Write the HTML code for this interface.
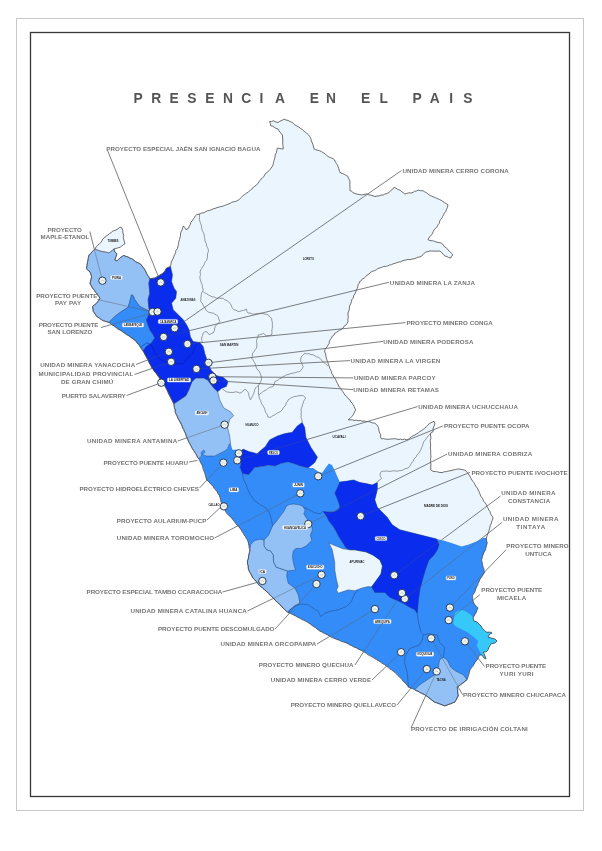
<!DOCTYPE html>
<html><head><meta charset="utf-8"><style>
html,body{margin:0;padding:0;background:#fff;}
body{width:602px;height:851px;overflow:hidden;}
svg{display:block;will-change:transform;}
.t{font-family:"Liberation Sans",sans-serif;font-weight:bold;font-size:13.8px;fill:#555555;}
.l{font-family:"Liberation Sans",sans-serif;font-weight:bold;font-size:6.2px;fill:#747474;}
.d{font-family:"Liberation Sans",sans-serif;font-weight:bold;font-size:3.3px;fill:#222;}
</style></head><body>
<svg width="602" height="851" viewBox="0 0 602 851">
<rect x="16.5" y="18.5" width="567" height="792" fill="none" stroke="#c8c8c8" stroke-width="1"/>
<rect x="30.5" y="32.5" width="539" height="764" fill="none" stroke="#383838" stroke-width="1.3"/>
<text x="133.6" y="102.5" class="t">P</text>
<text x="151.2" y="102.5" class="t">R</text>
<text x="169.5" y="102.5" class="t">E</text>
<text x="187.3" y="102.5" class="t">S</text>
<text x="205.2" y="102.5" class="t">E</text>
<text x="223" y="102.5" class="t">N</text>
<text x="241.3" y="102.5" class="t">C</text>
<text x="259.5" y="102.5" class="t">I</text>
<text x="275" y="102.5" class="t">A</text>
<text x="309.8" y="102.5" class="t">E</text>
<text x="326" y="102.5" class="t">N</text>
<text x="360.9" y="102.5" class="t">E</text>
<text x="379.6" y="102.5" class="t">L</text>
<text x="412.6" y="102.5" class="t">P</text>
<text x="429.8" y="102.5" class="t">A</text>
<text x="449.2" y="102.5" class="t">I</text>
<text x="463.2" y="102.5" class="t">S</text>
<polygon points="95.0,248.9 98.0,244.9 101.9,240.9 103.9,237.9 107.9,235.0 112.9,231.0 117.9,229.0 119.9,227.0 121.9,228.0 122.9,233.0 123.9,240.0 124.9,243.9 121.9,245.9 117.9,247.9 113.9,248.9 114.9,251.9 116.9,253.9 115.9,256.9 114.9,259.9 116.9,260.9 119.9,257.9 123.9,255.4 127.9,256.9 131.9,258.9 135.8,261.9 140.6,264.1 144.0,268.3 147.3,274.9 149.8,279.0 155.0,278.0 162.0,274.0 164.7,271.6 166.4,268.3 170.5,266.6 172.2,260.0 174.7,254.5 178.4,244.6 180.9,232.1 183.4,225.9 185.9,229.6 188.4,228.4 190.9,222.1 196.6,214.7 199.9,213.9 213.2,208.9 226.5,204.8 237.3,200.6 246.4,193.2 256.4,184.9 264.7,174.9 272.2,166.6 274.7,158.3 277.2,148.3 283.2,149.0 282.4,135.0 278.0,129.0 270.8,125.8 269.6,121.6 273.3,120.8 278.0,122.5 284.0,119.0 290.0,121.6 296.5,125.8 300.0,128.0 304.8,131.6 309.8,136.6 312.3,143.0 314.0,149.0 321.4,151.5 328.0,156.5 334.7,160.0 338.0,166.5 340.5,173.0 348.0,176.5 350.0,182.0 350.0,190.7 356.6,194.0 361.6,195.0 366.6,194.0 375.0,196.5 383.2,195.0 390.0,191.6 394.0,187.4 399.8,190.0 404.8,194.0 413.0,192.4 418.0,190.0 423.0,190.7 428.0,194.0 436.4,198.2 443.0,201.5 448.0,204.8 446.3,209.8 438.0,224.8 428.0,239.7 434.7,241.4 441.4,243.0 446.3,248.0 452.8,255.0 450.8,258.0 444.8,256.0 439.9,251.0 431.9,251.0 425.9,252.0 421.9,256.0 412.0,259.0 406.0,260.0 389.6,265.0 379.7,268.0 369.7,273.0 359.7,281.5 356.4,290.0 351.4,301.5 348.0,313.0 348.0,321.6 343.0,328.3 334.7,333.3 331.4,338.2 328.1,344.9 324.8,349.9 326.4,358.2 329.7,368.1 331.6,373.3 335.0,378.3 338.3,385.0 341.6,390.0 344.9,395.0 349.9,399.9 353.2,404.9 355.7,409.9 353.2,414.9 348.2,419.8 358.2,420.7 368.2,421.5 374.8,423.2 378.1,426.5 379.8,433.1 381.5,438.9 391.4,438.9 408.2,439.5 413.2,435.7 419.8,431.6 426.5,426.6 429.8,423.3 434.0,421.3 434.8,423.3 433.1,429.1 433.1,431.6 430.6,433.2 430.6,469.8 433.1,471.4 439.9,472.5 446.5,471.6 453.2,470.0 459.8,469.1 464.8,470.0 468.1,473.3 473.1,481.6 478.1,489.9 483.1,499.9 488.1,508.2 493.1,518.1 491.4,523.1 489.7,528.1 488.1,533.1 486.4,538.1 487.2,543.1 485.6,549.7 483.1,554.7 481.4,560.0 484.6,572.5 479.6,579.9 474.6,592.4 472.5,595.3 472.5,599.3 475.0,605.0 478.0,608.0 476.0,613.0 473.0,618.0 474.0,621.0 477.0,622.0 479.0,624.0 481.0,626.0 483.0,629.0 486.0,632.0 490.0,632.0 492.0,633.0 489.0,635.0 488.0,637.0 491.0,638.0 495.0,639.0 497.0,641.0 495.0,643.0 491.0,644.0 489.0,647.0 488.0,650.0 486.0,652.0 483.0,652.0 485.0,656.0 486.0,659.0 484.0,658.0 482.0,655.0 479.2,655.1 477.8,659.1 473.9,664.4 469.9,670.0 467.0,679.8 462.0,683.5 457.1,687.2 458.3,696.0 454.6,702.2 444.6,705.9 434.6,702.2 424.7,694.7 414.7,689.7 408.5,687.2 402.2,679.8 394.8,672.3 384.8,664.8 374.8,658.6 364.9,652.4 354.9,647.4 344.9,642.4 335.0,638.7 327.5,634.9 320.0,631.2 307.2,622.1 297.3,617.1 287.3,612.1 277.3,602.2 267.4,592.2 258.7,584.7 252.4,577.2 248.7,569.8 247.4,562.3 249.9,549.8 247.4,539.9 241.2,529.9 235.0,522.4 233.2,520.0 227.8,514.4 223.9,509.1 221.2,502.5 219.9,497.1 217.2,491.8 211.9,485.2 206.6,479.9 205.2,474.6 202.6,466.6 198.6,458.6 194.6,452.0 190.6,445.3 188.0,440.0 183.8,429.7 178.8,419.7 175.8,413.7 173.8,403.8 171.8,399.8 167.8,391.8 163.9,383.9 157.9,375.9 151.9,367.9 147.9,359.9 143.0,351.0 140.0,346.5 136.0,341.0 129.8,336.4 123.2,332.2 115.7,327.2 109.1,322.3 101.6,319.8 96.6,316.4 93.3,311.5 92.5,306.5 96.6,303.2 99.9,298.2 96.6,293.2 92.5,288.2 90.0,283.2 91.6,276.6 90.0,271.8 86.6,268.9 87.0,264.9 88.0,259.9 89.0,254.9 92.0,251.9" fill="#eaf5fe" stroke="none"/>
<polygon points="198.6,458.6 201.3,456.0 201.3,452.0 203.9,450.0 205.2,452.0 202.6,454.6 206.6,456.0 214.6,456.0 219.9,453.3 225.2,450.6 227.8,448.0 229.2,444.0 230.6,443.6 232.4,449.8 237.4,449.8 239.9,452.3 241.1,462.2 239.9,467.2 242.4,473.4 248.6,474.7 255.0,467.2 261.6,466.6 268.3,465.2 275.0,465.9 281.6,463.3 288.2,461.9 294.9,463.9 300.2,465.9 308.2,467.9 313.0,468.0 318.0,471.5 322.0,473.0 325.5,468.0 329.0,463.5 332.0,465.0 335.0,471.0 337.5,477.0 339.9,482.0 347.3,481.1 353.6,479.9 359.8,482.4 366.0,483.6 372.3,484.9 377.3,482.4 377.3,489.8 374.8,499.8 377.3,507.3 382.2,512.3 387.2,517.3 392.2,524.7 399.7,529.7 409.6,532.2 419.6,534.7 429.6,537.2 436.6,538.9 443.2,540.6 451.5,543.1 461.5,546.4 468.1,544.7 476.4,541.4 483.1,538.1 486.4,538.1 487.2,543.1 485.6,549.7 483.1,554.7 481.4,560.0 484.6,572.5 479.6,579.9 474.6,592.4 472.5,595.3 472.5,599.3 475.0,605.0 478.0,608.0 476.0,613.0 473.0,618.0 474.0,621.0 477.0,622.0 479.0,624.0 481.0,626.0 483.0,629.0 486.0,632.0 490.0,632.0 492.0,633.0 489.0,635.0 488.0,637.0 491.0,638.0 495.0,639.0 497.0,641.0 495.0,643.0 491.0,644.0 489.0,647.0 488.0,650.0 486.0,652.0 483.0,652.0 485.0,656.0 486.0,659.0 484.0,658.0 482.0,655.0 479.2,655.1 477.8,659.1 473.9,664.4 469.9,670.0 467.0,679.8 462.0,683.5 457.1,687.2 458.3,696.0 454.6,702.2 444.6,705.9 434.6,702.2 424.7,694.7 414.7,689.7 408.5,687.2 402.2,679.8 394.8,672.3 384.8,664.8 374.8,658.6 364.9,652.4 354.9,647.4 344.9,642.4 335.0,638.7 327.5,634.9 320.0,631.2 307.2,622.1 297.3,617.1 287.3,612.1 277.3,602.2 267.4,592.2 258.7,584.7 252.4,577.2 248.7,569.8 247.4,562.3 249.9,549.8 247.4,539.9 241.2,529.9 235.0,522.4 233.2,520.0 227.8,514.4 223.9,509.1 221.2,502.5 219.9,497.1 217.2,491.8 211.9,485.2 206.6,479.9 205.2,474.6 202.6,466.6" fill="#338cf8" stroke="none"/>
<polygon points="95.0,248.9 92.0,251.9 89.0,254.9 88.0,259.9 87.0,264.9 86.6,268.9 90.0,271.8 91.6,276.6 90.0,283.2 92.5,288.2 96.6,293.2 99.9,298.2 96.6,303.2 92.5,306.5 93.3,311.5 96.6,316.4 101.6,319.8 109.1,322.3 114.9,316.4 121.5,311.5 128.2,307.3 129.8,301.5 131.5,294.9 133.2,295.7 134.8,299.8 137.3,303.2 139.8,306.5 144.8,309.0 149.8,311.5 148.9,308.1 148.1,299.8 149.8,293.2 148.9,283.2 149.8,279.0 147.3,274.9 144.0,268.3 140.6,264.1 135.8,261.9 131.9,258.9 127.9,256.9 123.9,255.4 119.9,257.9 116.9,260.9 114.9,259.9 115.9,256.9 116.9,253.9 114.9,251.9 113.9,248.9 111.9,250.9 108.9,252.9 104.9,251.9 99.9,250.9" fill="#93c0f5" stroke="#24407a" stroke-width="0.6" stroke-opacity="0.8"/>
<polygon points="109.1,322.3 114.9,316.4 121.5,311.5 128.2,307.3 129.8,301.5 131.5,294.9 133.2,295.7 134.8,299.8 137.3,303.2 139.8,306.5 144.8,309.0 149.8,311.5 148.1,316.4 146.4,319.8 148.1,324.8 149.8,329.7 153.1,334.7 154.8,338.0 151.4,343.0 146.4,346.3 143.0,351.0 140.0,346.5 136.0,341.0 129.8,336.4 123.2,332.2 115.7,327.2" fill="#338cf8" stroke="#24407a" stroke-width="0.6" stroke-opacity="0.8"/>
<polygon points="173.8,403.8 179.8,399.8 185.8,395.8 188.8,389.8 191.8,381.9 195.7,377.9 203.7,377.9 207.7,379.9 213.7,387.8 217.7,391.8 219.7,399.8 223.6,407.8 230.6,411.8 233.6,415.7 229.6,419.7 227.6,427.7 229.6,435.7 230.6,443.6 229.2,444.0 227.8,448.0 225.2,450.6 219.9,453.3 214.6,456.0 206.6,456.0 202.6,454.6 205.2,452.0 203.9,450.0 201.3,452.0 201.3,456.0 198.6,458.6 194.6,452.0 190.6,445.3 188.0,440.0 183.8,429.7 178.8,419.7 175.8,413.7" fill="#93c0f5" stroke="#24407a" stroke-width="0.6" stroke-opacity="0.8"/>
<polygon points="263.9,540.0 268.6,535.2 272.6,525.9 275.9,521.9 279.9,516.6 283.9,511.3 286.5,506.0 289.2,504.6 293.2,504.0 298.5,504.6 302.5,506.0 305.1,509.9 303.8,513.9 306.4,517.9 309.1,521.9 311.8,525.9 312.4,529.9 310.4,535.2 311.8,540.5 306.4,545.8 301.1,548.5 295.8,548.5 293.2,551.1 292.5,556.4 293.2,561.8 294.5,567.1 295.8,570.0 287.3,571.0 276.1,567.3 273.6,562.3 273.2,555.0 270.6,551.1 266.6,549.8 263.9,545.8" fill="#93c0f5" stroke="#24407a" stroke-width="0.6" stroke-opacity="0.8"/>
<polygon points="250.6,544.5 254.6,540.5 259.9,539.2 263.9,540.0 263.9,545.8 266.6,549.8 270.6,551.1 273.2,555.0 273.6,562.3 276.1,567.3 287.3,571.0 286.7,576.6 288.3,583.3 295.0,588.2 298.3,594.9 300.0,603.2 295.0,605.7 290.0,609.8 287.3,612.1 277.3,602.2 267.4,592.2 258.7,584.7 252.4,577.2 248.7,569.8 247.4,562.3 249.9,549.8" fill="#93c0f5" stroke="#24407a" stroke-width="0.6" stroke-opacity="0.8"/>
<polygon points="414.7,689.7 424.7,694.7 434.6,702.2 444.6,705.9 454.6,702.2 458.3,696.0 457.1,687.2 462.0,683.5 467.0,679.8 463.3,674.8 455.8,671.1 450.8,667.3 447.1,659.8 443.3,657.3 439.6,659.8 438.4,667.3 434.6,674.8 427.2,679.8 419.7,684.8" fill="#93c0f5" stroke="#24407a" stroke-width="0.6" stroke-opacity="0.8"/>
<polygon points="328.9,542.8 332.9,544.8 337.9,546.8 342.9,548.8 349.9,549.8 354.9,549.8 359.9,550.8 365.8,551.8 373.0,555.0 380.0,560.0 382.5,566.0 381.0,574.0 376.0,581.0 371.5,587.0 368.1,586.6 361.4,588.2 354.8,590.7 348.1,589.9 343.1,591.6 338.2,593.2 336.5,589.9 338.2,586.6 336.5,580.0 334.8,570.0 334.7,562.3 332.2,549.8" fill="#eaf5fe" stroke="#24407a" stroke-width="0.6" stroke-opacity="0.8"/>
<polygon points="149.8,279.0 155.0,278.0 162.0,274.0 164.7,271.6 166.4,268.3 170.5,266.6 172.5,275.0 171.6,281.6 174.1,288.2 176.6,291.5 175.8,298.2 171.6,303.2 173.3,309.8 178.3,314.8 183.3,319.8 186.6,324.8 189.1,329.7 190.5,337.0 193.2,341.5 199.8,342.4 203.2,346.5 204.8,353.2 207.0,360.0 211.0,370.0 216.4,375.6 223.1,377.2 228.1,381.4 226.4,386.4 221.4,388.5 217.7,391.8 213.7,387.8 207.7,379.9 203.7,377.9 195.7,377.9 191.8,381.9 188.8,389.8 185.8,395.8 179.8,399.8 173.8,403.8 171.8,399.8 167.8,391.8 163.9,383.9 157.9,375.9 151.9,367.9 147.9,359.9 143.0,351.0 146.4,346.3 151.4,343.0 154.8,338.0 153.1,334.7 149.8,329.7 148.1,324.8 146.4,319.8 148.1,316.4 149.8,311.5 148.9,308.1 148.1,299.8 149.8,293.2 148.9,283.2" fill="#0a2ced" stroke="#24407a" stroke-width="0.6" stroke-opacity="0.8"/>
<polygon points="239.9,452.3 243.0,449.0 248.8,451.6 253.0,452.5 257.0,453.7 261.2,450.0 265.4,446.6 267.9,442.5 269.8,439.8 277.2,436.1 284.7,433.6 292.2,432.3 297.2,426.1 302.2,422.4 304.7,427.3 305.9,437.3 310.9,447.3 317.5,457.3 314.8,462.6 308.2,467.9 300.2,465.9 294.9,463.9 288.2,461.9 281.6,463.3 275.0,465.9 268.3,465.2 261.6,466.6 255.0,467.2 248.6,474.7 242.4,473.4 239.9,467.2 241.1,462.2" fill="#0a2ced" stroke="#24407a" stroke-width="0.6" stroke-opacity="0.8"/>
<polygon points="339.9,482.0 347.3,481.1 353.6,479.9 359.8,482.4 366.0,483.6 372.3,484.9 377.3,482.4 377.3,489.8 374.8,499.8 377.3,507.3 382.2,512.3 387.2,517.3 392.2,524.7 399.7,529.7 409.6,532.2 419.6,534.7 429.6,537.2 436.6,538.9 439.1,544.7 437.4,549.7 434.0,555.0 429.0,560.0 426.0,568.0 423.0,578.0 420.0,589.0 418.5,600.0 417.3,613.6 414.8,609.8 409.8,607.3 403.6,603.6 396.1,599.9 389.9,597.4 384.9,592.4 374.9,592.4 371.5,587.0 376.0,581.0 381.0,574.0 382.5,566.0 380.0,560.0 373.0,555.0 365.8,551.8 359.9,550.8 354.9,549.8 349.9,549.8 345.9,547.8 342.9,542.8 338.9,536.8 335.9,530.8 332.9,525.9 328.9,520.9 327.0,516.9 325.0,513.9 323.0,511.4 327.9,511.9 333.9,511.9 337.9,509.9 339.9,506.9 338.9,502.9 336.9,498.0 334.9,493.0 336.9,489.0" fill="#0a2ced" stroke="#24407a" stroke-width="0.6" stroke-opacity="0.8"/>
<polygon points="455.0,613.0 458.0,611.0 462.0,610.0 465.0,611.0 468.0,613.0 471.0,615.0 473.0,618.0 474.0,621.0 477.0,622.0 479.0,624.0 481.0,626.0 483.0,629.0 486.0,632.0 490.0,632.0 492.0,633.0 489.0,635.0 488.0,637.0 491.0,638.0 495.0,639.0 497.0,641.0 495.0,643.0 491.0,644.0 489.0,647.0 488.0,650.0 486.0,652.0 483.0,652.0 485.0,656.0 486.0,659.0 484.0,658.0 482.0,655.0 480.0,652.0 477.0,646.0 478.0,641.0 475.0,638.0 471.0,635.0 467.0,632.0 463.0,630.0 459.0,628.0 455.0,626.0 453.0,623.0 454.0,619.0" fill="#35c8f8" stroke="none"/>
<polyline points="140,347.4 147,342.8 151.6,345.1 155.1,353.3 159.8,359.1 166.7,362.6 174.9,363.7 183,363.7 186.5,359.1 192.3,353.3 195.8,345.1 200.5,341.6" fill="none" stroke="#06168c" stroke-width="0.7" stroke-opacity="0.6"/>
<polyline points="242.4,473.4 243.6,479.7 246.4,485.2 248.0,490.0 250.6,495.3 254.6,500.6 259.9,504.6 265.2,507.3 268.6,511.3 270.6,516.6 271.9,521.9 272.6,525.9" fill="none" stroke="#24407a" stroke-width="0.6" stroke-opacity="0.8"/>
<polyline points="303.8,507.3 309.1,509.9 314.4,512.6 320.0,513.9 323.0,511.4" fill="none" stroke="#24407a" stroke-width="0.6" stroke-opacity="0.8"/>
<polyline points="288.6,613.4 290.0,609.8 295.0,605.7 301.6,604.0 308.3,604.9 313.2,608.2 318.2,611.5 320.7,616.5 324.9,613.2 329.9,611.5 338.2,609.8 346.5,606.5 351.4,601.5 354.8,593.2 358.1,590.7" fill="none" stroke="#24407a" stroke-width="0.6" stroke-opacity="0.8"/>
<polyline points="417.3,613.6 418.5,622.3 421.0,632.3 423.4,634.9" fill="none" stroke="#24407a" stroke-width="0.6" stroke-opacity="0.8"/>
<polyline points="423.4,634.9 422.2,639.9 419.7,644.9 409.7,648.6 404.7,657.3 404.7,663.6 407.2,672.3 408.5,687.2" fill="none" stroke="#24407a" stroke-width="0.6" stroke-opacity="0.8"/>
<polyline points="423.4,634.9 429.6,633.7 437.1,634.9 439.6,642.4 444.6,647.4 443.3,657.3" fill="none" stroke="#24407a" stroke-width="0.6" stroke-opacity="0.8"/>
<polyline points="95.0,248.9 97.4,250.1 99.9,250.9 102.3,251.7 104.9,251.9 106.9,252.4 108.9,252.9 110.3,251.7 111.9,250.9 113.9,248.9" fill="none" stroke="#707070" stroke-width="0.7"/>
<polyline points="199.5,213.9 199.5,215.8 199.5,217.7 199.4,219.5 199.9,221.4 200.7,223.5 201.4,225.7 201.6,228.0 202.2,230.3 203.4,232.4 204.1,234.7 204.6,237.3 204.9,240.0 205.3,242.0 206.5,243.7 206.6,245.8 207.6,247.6 208.3,249.5 208.4,251.7 207.4,253.9 207.5,256.1 207.3,258.3 206.8,260.1 205.4,261.5 204.6,263.2 204.0,265.0 202.7,266.5 201.7,268.3 200.7,270.0 200.0,272.1 200.6,274.5 199.9,276.6 200.0,278.9 200.8,281.0 201.5,283.2 202.3,285.4 202.5,287.7 203.2,289.9 202.5,291.6 201.5,293.2 201.2,295.3 200.9,297.3 200.9,299.4 200.7,301.5 202.1,303.0 203.0,304.8 204.0,306.5 205.2,308.1 206.0,310.0 207.3,311.5 209.2,312.4 211.2,312.8 213.2,313.1 214.8,314.2 216.6,315.1 218.1,316.4 218.8,319.0 219.8,321.4 218.3,323.2 216.5,324.8 215.3,326.2 214.8,328.0 214.3,330.6 213.2,333.0 211.3,333.5 209.8,334.7 207.8,333.4 206.5,331.4 204.7,332.0 203.2,333.0 202.5,335.5 201.5,338.0 201.9,340.5 202.4,343.0" fill="none" stroke="#707070" stroke-width="0.7"/>
<polyline points="203.2,291.5 204.7,292.9 206.6,293.7 208.2,294.9 210.2,295.8 212.2,296.9 214.5,297.1 216.5,298.2 218.7,298.2 220.9,298.3 223.1,298.2 224.5,299.8 226.7,300.4 228.4,301.6 229.8,303.2 231.0,304.8 231.6,306.7 232.6,308.3 233.9,309.8 235.9,310.1 237.7,311.3 239.7,311.5 241.9,310.7 244.3,310.2 246.4,309.0 246.8,311.2 248.0,313.1 250.3,313.0 252.4,314.1 254.7,314.0 257.3,313.6 260.0,313.3 262.1,313.4 264.2,314.1 266.3,314.2 268.3,315.0 269.8,316.8 271.6,318.3 271.8,320.4 272.3,322.4 272.4,324.5 272.4,326.6 272.2,328.7 271.8,330.7 272.0,332.8 271.6,334.9 269.2,335.6 266.6,335.7 264.9,334.6 263.3,333.3 260.9,334.5 258.3,334.9 257.9,337.2 256.8,339.3 256.6,341.6 256.9,343.8 256.8,346.0 256.6,348.2 255.0,349.7 254.1,351.7 252.5,353.2 252.4,355.8 251.7,358.2 253.0,359.7 253.8,361.6 255.0,363.2 255.6,365.7 256.6,368.1 257.6,369.9 259.2,371.2 260.0,373.1 261.0,375.5 261.6,378.1 261.1,380.7 260.0,383.1 258.5,385.2 258.4,387.1 258.6,389.1 258.5,391.0 258.4,393.0 258.8,395.0 259.0,397.0 259.6,398.9 260.7,400.6 261.1,402.5 262.1,404.5 263.4,406.3 264.4,408.3 265.1,410.4 265.5,412.2 266.7,413.6 267.5,415.3 267.8,417.1 269.8,417.4 269.8,417.4 271.6,416.7 273.0,415.5 274.8,414.9 276.5,413.5 278.5,412.5 280.6,411.5 282.2,409.9 283.2,407.8 284.9,406.3 285.8,404.7 286.2,402.8 287.6,401.5 288.2,399.7 289.8,398.8 291.3,397.7 293.1,397.1 294.8,396.4 296.9,396.3 299.0,395.6 301.1,395.6 303.2,395.5 305.6,398.0 304.6,399.6 303.7,401.2 303.2,403.0 302.5,404.7 302.1,406.5 301.4,408.2 301.0,410.0 301.3,411.9 301.1,413.7 301.2,415.5 301.0,417.4 301.9,419.8 302.2,422.4" fill="none" stroke="#707070" stroke-width="0.7"/>
<polyline points="259.1,394.7 261.2,393.1 263.3,391.4 265.1,390.5 266.9,389.5 268.3,388.1 270.7,387.1 273.3,386.4 274.3,384.0 274.9,381.4 276.7,380.7 278.3,379.9 279.8,378.6 281.6,378.1 283.0,376.6 284.8,375.8 286.5,374.8 288.8,374.4 290.9,373.5 293.2,373.1 295.4,372.6 297.6,371.9 299.8,371.5 301.2,370.0 302.4,368.4 303.2,366.5 302.3,364.9 301.9,363.0 300.7,361.5 300.7,358.9 301.5,356.5 303.3,355.0 304.8,353.2 306.8,353.9 309.0,353.7 311.0,354.6 313.1,354.8 314.8,355.7 316.3,356.9 318.2,357.1 319.8,358.2 321.4,359.9 322.9,361.8 324.8,363.2 326.3,364.7 328.0,366.0" fill="none" stroke="#707070" stroke-width="0.7"/>
<polyline points="222.6,389.2 224.6,390.5 226.6,391.8 229.2,392.3 231.9,392.5 233.9,392.3 235.9,391.8 238.0,392.2 239.9,393.2 242.5,391.8 243.5,390.2 245.2,389.2 246.6,390.4 247.8,391.8 248.7,393.7 248.9,395.9 249.7,397.9 250.5,399.8 251.5,398.1 252.3,396.3 253.2,394.5 254.2,392.3 254.6,389.9 255.8,387.8 257.1,386.5 258.5,385.2" fill="none" stroke="#707070" stroke-width="0.7"/>
<polyline points="430.6,433.2 429.4,435.0 427.7,436.4 426.5,438.2 425.3,439.8 424.0,441.4 423.2,443.2 422.6,445.4 421.7,447.4 420.9,449.5 419.8,451.5 418.8,453.3 417.2,454.7 416.4,456.6 414.9,458.1 413.7,459.8 412.8,461.6 411.5,463.1 410.6,464.9 409.4,466.5 408.2,468.1 406.0,468.4 404.0,469.3 402.1,470.4 399.9,470.6 397.9,471.0 395.9,471.2 393.9,470.7 391.9,471.0 389.9,471.4 387.8,471.1 385.8,471.1 383.7,471.2 381.6,471.4 380.4,472.9 380.0,474.8 380.6,476.6 381.6,478.1 380.3,479.7 378.5,480.7 377.3,482.4" fill="none" stroke="#707070" stroke-width="0.7"/>
<polygon points="95.0,248.9 96.3,246.7 98.0,244.9 99.5,243.8 100.8,242.4 101.9,240.9 102.7,239.3 103.9,237.9 105.9,236.4 107.9,235.0 109.5,233.6 111.3,232.4 112.9,231.0 115.5,230.2 117.9,229.0 119.9,227.0 121.9,228.0 122.7,230.4 122.9,233.0 123.6,235.3 123.3,237.7 123.9,240.0 124.5,241.9 124.9,243.9 123.3,244.7 121.9,245.9 120.1,247.3 117.9,247.9 115.9,248.4 113.9,248.9 114.9,251.9 116.9,253.9 115.9,256.9 114.9,259.9 116.9,260.9 118.5,259.5 119.9,257.9 121.8,256.5 123.9,255.4 125.8,256.5 127.9,256.9 129.8,258.2 131.9,258.9 134.1,260.1 135.8,261.9 138.4,262.7 140.6,264.1 141.7,265.5 142.6,267.1 144.0,268.3 144.9,269.9 145.9,271.5 146.5,273.2 147.3,274.9 148.9,276.8 149.8,279.0 152.4,278.3 155.0,278.0 156.7,277.0 158.5,276.0 160.1,274.8 162.0,274.0 163.2,272.6 164.7,271.6 165.4,269.8 166.4,268.3 168.4,267.4 170.5,266.6 170.9,264.4 171.3,262.1 172.2,260.0 173.3,258.3 173.9,256.4 174.7,254.5 175.5,252.6 175.9,250.5 177.3,248.7 177.9,246.7 178.4,244.6 178.5,242.8 179.0,241.0 179.6,239.3 180.0,237.5 180.5,235.7 180.5,233.9 180.9,232.1 182.0,230.1 182.7,228.0 183.4,225.9 184.8,227.7 185.9,229.6 188.4,228.4 189.3,226.3 190.4,224.3 190.9,222.1 192.3,220.8 193.2,219.1 194.4,217.7 195.2,216.0 196.6,214.7 199.9,213.9 201.7,213.0 203.8,212.7 205.6,211.7 207.4,210.8 209.4,210.4 211.4,209.8 213.2,208.9 215.1,208.4 217.0,207.6 218.9,207.1 220.8,206.6 222.8,206.2 224.6,205.4 226.5,204.8 228.3,204.0 230.1,203.4 231.8,202.3 233.6,201.7 235.6,201.5 237.3,200.6 239.1,199.7 240.4,198.2 241.8,196.8 243.2,195.5 244.9,194.4 246.4,193.2 248.1,192.3 249.4,191.0 250.7,189.7 252.3,188.7 253.4,187.1 255.0,186.1 256.4,184.9 257.9,183.7 258.8,182.1 259.9,180.6 261.0,179.1 262.4,177.8 263.8,176.6 264.7,174.9 265.7,173.3 267.4,172.3 268.6,170.9 269.9,169.6 271.1,168.1 272.2,166.6 273.1,164.6 273.5,162.5 274.1,160.4 274.7,158.3 275.1,156.3 275.4,154.2 276.5,152.4 276.8,150.3 277.2,148.3 279.2,148.3 281.2,148.8 283.2,149.0 283.1,147.0 282.9,145.0 282.7,143.0 282.8,141.0 282.7,139.0 282.6,137.0 282.4,135.0 281.3,133.5 279.9,132.2 278.9,130.6 278.0,129.0 276.1,128.4 274.4,127.3 272.7,126.3 270.8,125.8 270.4,123.6 269.6,121.6 271.5,121.4 273.3,120.8 275.6,121.9 278.0,122.5 279.9,121.2 282.1,120.4 284.0,119.0 285.9,120.0 288.1,120.4 290.0,121.6 291.8,122.3 293.5,123.4 294.8,124.9 296.5,125.8 298.4,126.7 300.0,128.0 301.8,129.0 303.1,130.5 304.8,131.6 306.6,133.2 308.4,134.7 309.8,136.6 310.9,138.6 311.4,140.9 312.3,143.0 313.1,144.9 313.6,147.0 314.0,149.0 315.8,149.8 317.7,150.2 319.6,150.7 321.4,151.5 323.1,152.7 324.9,153.7 326.4,155.2 328.0,156.5 329.7,157.3 331.5,158.0 333.2,158.8 334.7,160.0 335.2,161.8 336.3,163.3 337.4,164.8 338.0,166.5 338.8,168.7 339.4,170.9 340.5,173.0 342.5,173.5 344.4,174.4 346.2,175.4 348.0,176.5 348.5,178.4 349.6,180.1 350.0,182.0 349.8,184.2 349.9,186.3 350.0,188.5 350.0,190.7 351.7,191.3 353.1,192.7 354.8,193.4 356.6,194.0 359.1,194.5 361.6,195.0 364.1,194.3 366.6,194.0 368.7,194.7 370.8,195.2 372.9,195.9 375.0,196.5 377.0,196.0 379.1,195.9 381.1,195.0 383.2,195.0 384.8,194.0 386.8,193.6 388.4,192.7 390.0,191.6 391.2,190.1 392.9,189.0 394.0,187.4 396.0,188.1 397.7,189.5 399.8,190.0 401.3,191.5 403.2,192.6 404.8,194.0 406.8,193.4 408.8,192.8 411.0,193.1 413.0,192.4 414.5,191.3 416.4,191.0 418.0,190.0 420.4,190.7 423.0,190.7 424.6,191.8 426.5,192.7 428.0,194.0 429.5,195.1 431.2,196.0 433.0,196.7 434.7,197.4 436.4,198.2 438.1,198.9 439.8,199.7 441.5,200.5 443.0,201.5 444.6,202.7 446.4,203.7 448.0,204.8 447.4,207.4 446.3,209.8 445.7,211.6 444.3,213.1 443.7,214.9 442.6,216.5 441.8,218.2 440.5,219.7 439.6,221.3 439.3,223.3 438.0,224.8 437.1,226.6 435.9,228.2 434.3,229.5 433.4,231.3 432.6,233.1 431.5,234.9 430.1,236.3 428.9,237.9 428.0,239.7 430.1,240.6 432.5,240.7 434.7,241.4 436.9,242.2 439.1,242.6 441.4,243.0 443.0,244.7 444.4,246.6 446.3,248.0 447.8,249.3 448.8,250.9 450.4,252.0 451.7,253.4 452.8,255.0 451.5,256.3 450.8,258.0 448.7,257.6 446.9,256.5 444.8,256.0 443.2,254.3 441.7,252.5 439.9,251.0 437.9,251.1 435.9,251.1 433.9,251.2 431.9,251.0 429.9,251.0 427.9,251.6 425.9,252.0 424.3,253.1 423.0,254.4 421.9,256.0 420.0,256.9 417.9,257.2 416.1,258.1 414.1,258.8 412.0,259.0 410.1,259.7 408.0,259.4 406.0,260.0 404.1,260.3 402.3,260.9 400.6,261.8 398.7,262.1 396.8,262.6 395.1,263.4 393.2,263.8 391.5,264.7 389.6,265.0 387.7,265.9 385.7,266.4 383.6,266.5 381.7,267.4 379.7,268.0 377.9,268.5 376.4,269.7 374.8,270.7 372.9,271.1 371.2,271.9 369.7,273.0 368.5,274.5 366.8,275.3 365.6,276.9 364.2,278.1 362.4,278.8 361.4,280.6 359.7,281.5 359.2,283.3 358.0,284.8 357.8,286.6 357.3,288.4 356.4,290.0 355.8,292.0 354.9,293.9 353.7,295.7 353.4,297.8 351.9,299.5 351.4,301.5 350.9,303.4 349.9,305.2 349.4,307.2 349.3,309.2 348.8,311.1 348.0,313.0 348.0,315.1 348.3,317.3 347.9,319.5 348.0,321.6 347.0,323.5 345.8,325.2 343.9,326.4 343.0,328.3 341.4,329.4 339.6,330.2 338.0,331.3 336.4,332.4 334.7,333.3 333.9,335.1 332.2,336.4 331.4,338.2 330.2,339.7 329.4,341.4 329.2,343.4 328.1,344.9 327.2,346.7 325.8,348.2 324.8,349.9 324.8,352.0 325.6,354.1 325.9,356.2 326.4,358.2 326.9,360.2 327.9,362.1 328.3,364.2 329.2,366.1 329.7,368.1 330.5,369.8 331.3,371.5 331.6,373.3 332.9,374.9 333.5,376.9 335.0,378.3 335.9,380.0 336.5,381.7 337.4,383.4 338.3,385.0 339.1,386.9 340.6,388.3 341.6,390.0 342.8,391.6 343.9,393.3 344.9,395.0 346.7,396.5 348.0,398.5 349.9,399.9 350.7,401.7 352.2,403.1 353.2,404.9 354.2,406.5 354.8,408.2 355.7,409.9 354.8,411.5 354.0,413.2 353.2,414.9 351.7,416.7 350.1,418.4 348.2,419.8 350.2,419.8 352.2,419.8 354.2,420.4 356.2,420.2 358.2,420.7 360.2,420.5 362.2,421.1 364.2,421.0 366.2,421.6 368.2,421.5 370.4,422.1 372.5,422.9 374.8,423.2 376.6,424.7 378.1,426.5 378.7,428.7 379.0,431.0 379.8,433.1 380.7,434.9 380.6,437.1 381.5,438.9 383.5,438.6 385.5,439.1 387.4,439.3 389.4,439.2 391.4,438.9 393.3,438.8 395.1,438.7 397.0,439.1 398.9,439.5 400.7,439.1 402.6,439.6 404.5,439.1 406.3,439.8 408.2,439.5 409.6,437.9 411.4,436.8 413.2,435.7 415.0,434.9 416.6,433.9 418.3,432.9 419.8,431.6 421.6,430.6 423.3,429.3 424.9,428.0 426.5,426.6 428.0,424.8 429.8,423.3 431.9,422.3 434.0,421.3 434.8,423.3 434.5,425.3 433.5,427.1 433.1,429.1 433.1,431.6 430.6,433.2 430.5,435.0 430.8,436.9 430.9,438.7 430.2,440.5 430.4,442.4 430.6,444.2 430.6,446.0 430.3,447.8 430.6,449.7 430.7,451.5 430.7,453.3 430.8,455.2 431.0,457.0 430.5,458.8 430.7,460.6 430.5,462.5 431.0,464.3 430.7,466.1 430.9,468.0 430.6,469.8 433.1,471.4 435.4,471.5 437.7,471.9 439.9,472.5 442.1,472.5 444.3,471.8 446.5,471.6 448.7,471.0 451.0,470.6 453.2,470.0 455.4,469.5 457.5,469.0 459.8,469.1 462.3,469.6 464.8,470.0 466.4,471.7 468.1,473.3 469.0,475.0 470.1,476.6 471.0,478.4 471.9,480.0 473.1,481.6 474.3,483.2 475.1,484.9 476.1,486.6 477.3,488.1 478.1,489.9 479.0,491.5 479.7,493.3 480.3,495.0 481.1,496.7 482.4,498.2 483.1,499.9 484.0,501.6 485.4,503.0 486.4,504.7 487.1,506.5 488.1,508.2 488.7,510.0 490.0,511.4 490.4,513.2 491.2,514.9 492.4,516.4 493.1,518.1 492.1,520.6 491.4,523.1 490.3,525.5 489.7,528.1 489.0,530.6 488.1,533.1 487.1,535.5 486.4,538.1 486.6,540.6 487.2,543.1 486.6,545.3 485.9,547.4 485.6,549.7 484.5,551.2 483.6,552.9 483.1,554.7 482.5,556.4 482.2,558.3 481.4,560.0 482.1,561.7 482.5,563.5 482.7,565.4 483.0,567.2 484.0,568.8 484.0,570.8 484.6,572.5 483.2,574.3 482.2,576.3 480.8,578.0 479.6,579.9 479.1,581.8 478.0,583.4 477.8,585.4 476.4,586.9 475.8,588.7 475.2,590.6 474.6,592.4 472.5,595.3 472.7,597.3 472.5,599.3 473.0,601.3 473.8,603.2 475.0,605.0 476.7,606.3 478.0,608.0 476.8,610.4 476.0,613.0 474.8,614.5 473.9,616.3 473.0,618.0 474.0,621.0 477.0,622.0 479.0,624.0 481.0,626.0 481.9,627.6 483.0,629.0 484.5,630.5 486.0,632.0 488.0,632.3 490.0,632.0 492.0,633.0 490.3,633.7 489.0,635.0 488.0,637.0 491.0,638.0 493.0,638.4 495.0,639.0 497.0,641.0 495.0,643.0 492.9,643.3 491.0,644.0 490.0,645.5 489.0,647.0 488.0,650.0 486.0,652.0 483.0,652.0 484.2,653.9 485.0,656.0 486.0,659.0 484.0,658.0 482.9,656.6 482.0,655.0 479.2,655.1 478.8,657.2 477.8,659.1 476.2,660.7 474.9,662.4 473.9,664.4 472.8,666.4 471.2,668.1 469.9,670.0 469.4,672.0 469.0,674.0 468.3,675.9 467.8,677.9 467.0,679.8 465.2,680.9 463.9,682.6 462.0,683.5 460.5,684.9 458.8,686.0 457.1,687.2 457.8,689.3 457.6,691.6 457.9,693.8 458.3,696.0 457.1,697.4 456.7,699.2 455.7,700.7 454.6,702.2 452.6,702.9 450.7,703.9 448.6,704.4 446.7,705.3 444.6,705.9 442.7,705.0 440.7,704.2 438.7,703.4 436.7,702.6 434.6,702.2 433.0,700.9 431.3,699.7 429.8,698.2 428.1,697.0 426.4,695.9 424.7,694.7 423.0,694.0 421.3,693.2 419.6,692.5 418.1,691.1 416.2,690.8 414.7,689.7 412.7,688.7 410.6,688.0 408.5,687.2 407.5,685.5 406.1,684.1 405.0,682.5 403.2,681.5 402.2,679.8 400.7,678.3 399.3,676.8 397.7,675.4 396.3,673.8 394.8,672.3 393.1,671.1 391.5,669.8 389.6,668.9 388.1,667.3 386.4,666.1 384.8,664.8 383.1,663.9 381.4,662.8 379.9,661.5 378.2,660.5 376.5,659.6 374.8,658.6 373.2,657.5 371.4,656.6 369.7,655.7 368.0,654.8 366.5,653.6 364.9,652.4 363.3,651.5 361.7,650.5 360.0,649.7 358.2,649.1 356.7,647.9 354.9,647.4 353.2,646.6 351.7,645.5 349.9,645.0 348.3,643.9 346.7,642.9 344.9,642.4 342.9,641.8 340.8,641.2 339.0,640.1 337.0,639.4 335.0,638.7 333.1,637.9 331.1,637.2 329.3,635.9 327.5,634.9 325.6,634.0 323.7,633.1 322.0,631.9 320.0,631.2 318.4,630.0 316.9,628.8 315.4,627.5 313.7,626.5 312.0,625.5 310.5,624.2 308.9,623.1 307.2,622.1 305.6,621.2 303.9,620.3 302.2,619.7 300.6,618.7 299.0,617.8 297.3,617.1 295.8,616.0 294.1,615.2 292.4,614.4 290.7,613.6 289.1,612.7 287.3,612.1 285.9,610.6 284.4,609.4 282.9,608.0 281.7,606.3 280.4,604.8 278.8,603.6 277.3,602.2 275.7,601.0 274.7,599.2 273.0,597.9 271.6,596.5 270.0,595.3 268.8,593.6 267.4,592.2 266.1,590.8 264.5,589.7 263.0,588.5 261.7,587.1 259.9,586.2 258.7,584.7 257.4,583.2 256.5,581.5 255.0,580.1 253.6,578.8 252.4,577.2 251.6,575.3 250.6,573.5 249.4,571.8 248.7,569.8 248.1,568.0 248.4,566.0 247.5,564.2 247.4,562.3 247.4,560.4 248.4,558.8 248.5,556.9 248.7,555.1 249.2,553.4 249.7,551.6 249.9,549.8 249.1,547.9 249.0,545.8 248.6,543.8 248.1,541.8 247.4,539.9 246.2,538.3 245.4,536.5 244.1,535.0 243.3,533.2 242.0,531.7 241.2,529.9 240.1,528.3 238.9,526.7 237.4,525.5 236.1,524.0 235.0,522.4 233.2,520.0 232.1,518.3 230.6,517.1 229.3,515.6 227.8,514.4 226.2,512.9 225.5,510.7 223.9,509.1 223.1,506.9 222.0,504.8 221.2,502.5 220.7,500.7 220.5,498.9 219.9,497.1 219.2,495.2 217.9,493.7 217.2,491.8 216.0,490.1 214.3,488.7 213.5,486.6 211.9,485.2 210.5,483.9 209.5,482.3 208.1,481.1 206.6,479.9 206.2,478.1 205.5,476.4 205.2,474.6 204.6,472.6 203.6,470.7 203.0,468.7 202.6,466.6 201.8,464.5 200.5,462.6 199.8,460.5 198.6,458.6 197.4,457.1 196.7,455.2 195.7,453.6 194.6,452.0 193.5,450.4 192.3,448.8 191.5,447.0 190.6,445.3 189.7,443.5 188.6,441.9 188.0,440.0 187.1,438.4 186.3,436.7 186.0,434.8 185.5,433.0 184.3,431.5 183.8,429.7 182.6,428.2 182.3,426.3 181.5,424.6 180.8,422.9 179.7,421.3 178.8,419.7 177.7,417.8 177.0,415.6 175.8,413.7 175.1,411.8 175.2,409.7 174.3,407.8 174.1,405.8 173.8,403.8 172.8,401.8 171.8,399.8 170.7,397.8 169.6,395.9 168.6,393.9 167.8,391.8 167.1,389.7 165.8,387.9 164.9,385.8 163.9,383.9 162.5,382.4 161.6,380.6 160.2,379.2 159.2,377.5 157.9,375.9 157.0,374.1 155.8,372.5 154.0,371.3 153.3,369.4 151.9,367.9 151.2,365.8 149.8,364.0 148.8,361.9 147.9,359.9 147.0,358.1 146.2,356.2 144.9,354.6 144.2,352.6 143.0,351.0 142.2,349.4 140.8,348.2 140.0,346.5 138.9,344.5 137.0,343.1 136.0,341.0 134.3,340.1 133.0,338.6 131.1,337.8 129.8,336.4 128.1,335.4 126.3,334.5 124.8,333.3 123.2,332.2 121.9,331.0 120.4,329.9 118.5,329.5 117.0,328.5 115.7,327.2 114.2,325.8 112.2,325.0 110.6,323.7 109.1,322.3 107.1,322.0 105.2,321.4 103.4,320.8 101.6,319.8 100.0,318.6 98.4,317.4 96.6,316.4 95.6,314.7 94.6,313.0 93.3,311.5 93.0,309.0 92.5,306.5 94.5,304.8 96.6,303.2 97.8,301.6 99.1,300.1 99.9,298.2 98.9,296.5 97.5,295.0 96.6,293.2 95.0,291.8 94.1,289.6 92.5,288.2 91.7,286.5 90.7,284.9 90.0,283.2 90.6,281.0 91.1,278.8 91.6,276.6 90.8,274.2 90.0,271.8 88.1,270.6 86.6,268.9 86.7,266.9 87.0,264.9 87.4,262.4 88.0,259.9 88.3,257.4 89.0,254.9 90.7,253.6 92.0,251.9 93.5,250.4 95.0,248.9" fill="none" stroke="#4a4a4a" stroke-width="0.8"/>
<defs><mask id="lm" maskUnits="userSpaceOnUse" x="0" y="0" width="602" height="851">
<rect x="0" y="0" width="602" height="851" fill="#fff"/>
<polygon points="198.6,458.6 201.3,456.0 201.3,452.0 203.9,450.0 205.2,452.0 202.6,454.6 206.6,456.0 214.6,456.0 219.9,453.3 225.2,450.6 227.8,448.0 229.2,444.0 230.6,443.6 232.4,449.8 237.4,449.8 239.9,452.3 241.1,462.2 239.9,467.2 242.4,473.4 248.6,474.7 255.0,467.2 261.6,466.6 268.3,465.2 275.0,465.9 281.6,463.3 288.2,461.9 294.9,463.9 300.2,465.9 308.2,467.9 313.0,468.0 318.0,471.5 322.0,473.0 325.5,468.0 329.0,463.5 332.0,465.0 335.0,471.0 337.5,477.0 339.9,482.0 347.3,481.1 353.6,479.9 359.8,482.4 366.0,483.6 372.3,484.9 377.3,482.4 377.3,489.8 374.8,499.8 377.3,507.3 382.2,512.3 387.2,517.3 392.2,524.7 399.7,529.7 409.6,532.2 419.6,534.7 429.6,537.2 436.6,538.9 443.2,540.6 451.5,543.1 461.5,546.4 468.1,544.7 476.4,541.4 483.1,538.1 486.4,538.1 487.2,543.1 485.6,549.7 483.1,554.7 481.4,560.0 484.6,572.5 479.6,579.9 474.6,592.4 472.5,595.3 472.5,599.3 475.0,605.0 478.0,608.0 476.0,613.0 473.0,618.0 474.0,621.0 477.0,622.0 479.0,624.0 481.0,626.0 483.0,629.0 486.0,632.0 490.0,632.0 492.0,633.0 489.0,635.0 488.0,637.0 491.0,638.0 495.0,639.0 497.0,641.0 495.0,643.0 491.0,644.0 489.0,647.0 488.0,650.0 486.0,652.0 483.0,652.0 485.0,656.0 486.0,659.0 484.0,658.0 482.0,655.0 479.2,655.1 477.8,659.1 473.9,664.4 469.9,670.0 467.0,679.8 462.0,683.5 457.1,687.2 458.3,696.0 454.6,702.2 444.6,705.9 434.6,702.2 424.7,694.7 414.7,689.7 408.5,687.2 402.2,679.8 394.8,672.3 384.8,664.8 374.8,658.6 364.9,652.4 354.9,647.4 344.9,642.4 335.0,638.7 327.5,634.9 320.0,631.2 307.2,622.1 297.3,617.1 287.3,612.1 277.3,602.2 267.4,592.2 258.7,584.7 252.4,577.2 248.7,569.8 247.4,562.3 249.9,549.8 247.4,539.9 241.2,529.9 235.0,522.4 233.2,520.0 227.8,514.4 223.9,509.1 221.2,502.5 219.9,497.1 217.2,491.8 211.9,485.2 206.6,479.9 205.2,474.6 202.6,466.6" fill="#8c8c8c"/>
<polygon points="95.0,248.9 92.0,251.9 89.0,254.9 88.0,259.9 87.0,264.9 86.6,268.9 90.0,271.8 91.6,276.6 90.0,283.2 92.5,288.2 96.6,293.2 99.9,298.2 96.6,303.2 92.5,306.5 93.3,311.5 96.6,316.4 101.6,319.8 109.1,322.3 114.9,316.4 121.5,311.5 128.2,307.3 129.8,301.5 131.5,294.9 133.2,295.7 134.8,299.8 137.3,303.2 139.8,306.5 144.8,309.0 149.8,311.5 148.9,308.1 148.1,299.8 149.8,293.2 148.9,283.2 149.8,279.0 147.3,274.9 144.0,268.3 140.6,264.1 135.8,261.9 131.9,258.9 127.9,256.9 123.9,255.4 119.9,257.9 116.9,260.9 114.9,259.9 115.9,256.9 116.9,253.9 114.9,251.9 113.9,248.9 111.9,250.9 108.9,252.9 104.9,251.9 99.9,250.9" fill="#8c8c8c"/>
<polygon points="109.1,322.3 114.9,316.4 121.5,311.5 128.2,307.3 129.8,301.5 131.5,294.9 133.2,295.7 134.8,299.8 137.3,303.2 139.8,306.5 144.8,309.0 149.8,311.5 148.1,316.4 146.4,319.8 148.1,324.8 149.8,329.7 153.1,334.7 154.8,338.0 151.4,343.0 146.4,346.3 143.0,351.0 140.0,346.5 136.0,341.0 129.8,336.4 123.2,332.2 115.7,327.2" fill="#8c8c8c"/>
<polygon points="173.8,403.8 179.8,399.8 185.8,395.8 188.8,389.8 191.8,381.9 195.7,377.9 203.7,377.9 207.7,379.9 213.7,387.8 217.7,391.8 219.7,399.8 223.6,407.8 230.6,411.8 233.6,415.7 229.6,419.7 227.6,427.7 229.6,435.7 230.6,443.6 229.2,444.0 227.8,448.0 225.2,450.6 219.9,453.3 214.6,456.0 206.6,456.0 202.6,454.6 205.2,452.0 203.9,450.0 201.3,452.0 201.3,456.0 198.6,458.6 194.6,452.0 190.6,445.3 188.0,440.0 183.8,429.7 178.8,419.7 175.8,413.7" fill="#8c8c8c"/>
<polygon points="328.9,542.8 332.9,544.8 337.9,546.8 342.9,548.8 349.9,549.8 354.9,549.8 359.9,550.8 365.8,551.8 373.0,555.0 380.0,560.0 382.5,566.0 381.0,574.0 376.0,581.0 371.5,587.0 368.1,586.6 361.4,588.2 354.8,590.7 348.1,589.9 343.1,591.6 338.2,593.2 336.5,589.9 338.2,586.6 336.5,580.0 334.8,570.0 334.7,562.3 332.2,549.8" fill="#fff"/>
<polygon points="149.8,279.0 155.0,278.0 162.0,274.0 164.7,271.6 166.4,268.3 170.5,266.6 172.5,275.0 171.6,281.6 174.1,288.2 176.6,291.5 175.8,298.2 171.6,303.2 173.3,309.8 178.3,314.8 183.3,319.8 186.6,324.8 189.1,329.7 190.5,337.0 193.2,341.5 199.8,342.4 203.2,346.5 204.8,353.2 207.0,360.0 211.0,370.0 216.4,375.6 223.1,377.2 228.1,381.4 226.4,386.4 221.4,388.5 217.7,391.8 213.7,387.8 207.7,379.9 203.7,377.9 195.7,377.9 191.8,381.9 188.8,389.8 185.8,395.8 179.8,399.8 173.8,403.8 171.8,399.8 167.8,391.8 163.9,383.9 157.9,375.9 151.9,367.9 147.9,359.9 143.0,351.0 146.4,346.3 151.4,343.0 154.8,338.0 153.1,334.7 149.8,329.7 148.1,324.8 146.4,319.8 148.1,316.4 149.8,311.5 148.9,308.1 148.1,299.8 149.8,293.2 148.9,283.2" fill="#555"/>
<polygon points="239.9,452.3 243.0,449.0 248.8,451.6 253.0,452.5 257.0,453.7 261.2,450.0 265.4,446.6 267.9,442.5 269.8,439.8 277.2,436.1 284.7,433.6 292.2,432.3 297.2,426.1 302.2,422.4 304.7,427.3 305.9,437.3 310.9,447.3 317.5,457.3 314.8,462.6 308.2,467.9 300.2,465.9 294.9,463.9 288.2,461.9 281.6,463.3 275.0,465.9 268.3,465.2 261.6,466.6 255.0,467.2 248.6,474.7 242.4,473.4 239.9,467.2 241.1,462.2" fill="#555"/>
<polygon points="339.9,482.0 347.3,481.1 353.6,479.9 359.8,482.4 366.0,483.6 372.3,484.9 377.3,482.4 377.3,489.8 374.8,499.8 377.3,507.3 382.2,512.3 387.2,517.3 392.2,524.7 399.7,529.7 409.6,532.2 419.6,534.7 429.6,537.2 436.6,538.9 439.1,544.7 437.4,549.7 434.0,555.0 429.0,560.0 426.0,568.0 423.0,578.0 420.0,589.0 418.5,600.0 417.3,613.6 414.8,609.8 409.8,607.3 403.6,603.6 396.1,599.9 389.9,597.4 384.9,592.4 374.9,592.4 371.5,587.0 376.0,581.0 381.0,574.0 382.5,566.0 380.0,560.0 373.0,555.0 365.8,551.8 359.9,550.8 354.9,549.8 349.9,549.8 345.9,547.8 342.9,542.8 338.9,536.8 335.9,530.8 332.9,525.9 328.9,520.9 327.0,516.9 325.0,513.9 323.0,511.4 327.9,511.9 333.9,511.9 337.9,509.9 339.9,506.9 338.9,502.9 336.9,498.0 334.9,493.0 336.9,489.0" fill="#555"/>
</mask></defs><g mask="url(#lm)">
<polyline points="107.4,150.0 160.7,282.4" fill="none" stroke="#5e5e5e" stroke-width="0.8"/>
<polyline points="89.8,231.5 102.4,280.7" fill="none" stroke="#5e5e5e" stroke-width="0.8"/>
<polyline points="97.5,299.5 152.5,312.0" fill="none" stroke="#5e5e5e" stroke-width="0.8"/>
<polyline points="101.0,327.5 157.5,311.6" fill="none" stroke="#5e5e5e" stroke-width="0.8"/>
<polyline points="136.0,364.5 168.8,351.8" fill="none" stroke="#5e5e5e" stroke-width="0.8"/>
<polyline points="134.5,374.5 171.1,361.8" fill="none" stroke="#5e5e5e" stroke-width="0.8"/>
<polyline points="126.5,395.5 161.3,382.7" fill="none" stroke="#5e5e5e" stroke-width="0.8"/>
<polyline points="177.8,441.0 224.6,424.7" fill="none" stroke="#5e5e5e" stroke-width="0.8"/>
<polyline points="189.0,462.0 197.5,460.4" fill="none" stroke="#5e5e5e" stroke-width="0.8"/>
<polyline points="199.5,488.0 206.0,481.0 223.4,462.7" fill="none" stroke="#5e5e5e" stroke-width="0.8"/>
<polyline points="207.0,520.0 219.9,507.8 223.9,506.4" fill="none" stroke="#5e5e5e" stroke-width="0.8"/>
<polyline points="214.5,538.0 300.3,493.3" fill="none" stroke="#5e5e5e" stroke-width="0.8"/>
<polyline points="222.5,592.0 262.4,581.0" fill="none" stroke="#5e5e5e" stroke-width="0.8"/>
<polyline points="247.5,611.0 321.5,574.8" fill="none" stroke="#5e5e5e" stroke-width="0.8"/>
<polyline points="275.0,629.0 316.5,584.0" fill="none" stroke="#5e5e5e" stroke-width="0.8"/>
<polyline points="317.0,644.0 374.9,609.1" fill="none" stroke="#5e5e5e" stroke-width="0.8"/>
<polyline points="355.0,665.0 401.9,593.0" fill="none" stroke="#5e5e5e" stroke-width="0.8"/>
<polyline points="372.0,680.0 401.1,652.2" fill="none" stroke="#5e5e5e" stroke-width="0.8"/>
<polyline points="397.0,705.0 426.8,669.1" fill="none" stroke="#5e5e5e" stroke-width="0.8"/>
<polyline points="411.0,728.0 436.7,671.4" fill="none" stroke="#5e5e5e" stroke-width="0.8"/>
<polyline points="401.4,170.6 174.6,328.2" fill="none" stroke="#5e5e5e" stroke-width="0.8"/>
<polyline points="388.8,282.3 163.6,336.9" fill="none" stroke="#5e5e5e" stroke-width="0.8"/>
<polyline points="405.5,322.6 187.4,344.0" fill="none" stroke="#5e5e5e" stroke-width="0.8"/>
<polyline points="383.0,341.4 208.5,362.8" fill="none" stroke="#5e5e5e" stroke-width="0.8"/>
<polyline points="350.0,360.6 196.5,368.9" fill="none" stroke="#5e5e5e" stroke-width="0.8"/>
<polyline points="353.0,377.9 212.3,376.7" fill="none" stroke="#5e5e5e" stroke-width="0.8"/>
<polyline points="353.0,389.6 213.5,380.6" fill="none" stroke="#5e5e5e" stroke-width="0.8"/>
<polyline points="417.5,406.6 237.3,460.3" fill="none" stroke="#5e5e5e" stroke-width="0.8"/>
<polyline points="443.0,425.9 318.2,476.3" fill="none" stroke="#5e5e5e" stroke-width="0.8"/>
<polyline points="447.0,454.1 308.3,524.0" fill="none" stroke="#5e5e5e" stroke-width="0.8"/>
<polyline points="470.0,472.4 360.6,516.2" fill="none" stroke="#5e5e5e" stroke-width="0.8"/>
<polyline points="500.5,496.0 394.2,575.3" fill="none" stroke="#5e5e5e" stroke-width="0.8"/>
<polyline points="502.0,522.4 404.8,598.8" fill="none" stroke="#5e5e5e" stroke-width="0.8"/>
<polyline points="506.0,549.8 449.9,607.6" fill="none" stroke="#5e5e5e" stroke-width="0.8"/>
<polyline points="479.8,594.7 448.7,620.1" fill="none" stroke="#5e5e5e" stroke-width="0.8"/>
<polyline points="484.5,666.5 464.9,641.3" fill="none" stroke="#5e5e5e" stroke-width="0.8"/>
<polyline points="462.5,694.6 431.2,638.3" fill="none" stroke="#5e5e5e" stroke-width="0.8"/>
</g>
<circle cx="160.7" cy="282.4" r="3.7" fill="#eef4f0" stroke="#1e2b48" stroke-width="0.9"/>
<path d="M159.1,283.0 q1.6,-2.2 3.2,0" fill="none" stroke="#b8c2a8" stroke-width="0.7"/>
<circle cx="102.4" cy="280.7" r="3.7" fill="#eef4f0" stroke="#1e2b48" stroke-width="0.9"/>
<path d="M100.80000000000001,281.3 q1.6,-2.2 3.2,0" fill="none" stroke="#b8c2a8" stroke-width="0.7"/>
<circle cx="152.5" cy="312" r="3.7" fill="#eef4f0" stroke="#1e2b48" stroke-width="0.9"/>
<path d="M150.9,312.6 q1.6,-2.2 3.2,0" fill="none" stroke="#b8c2a8" stroke-width="0.7"/>
<circle cx="157.5" cy="311.6" r="3.7" fill="#eef4f0" stroke="#1e2b48" stroke-width="0.9"/>
<path d="M155.9,312.20000000000005 q1.6,-2.2 3.2,0" fill="none" stroke="#b8c2a8" stroke-width="0.7"/>
<circle cx="168.8" cy="351.8" r="3.7" fill="#eef4f0" stroke="#1e2b48" stroke-width="0.9"/>
<path d="M167.20000000000002,352.40000000000003 q1.6,-2.2 3.2,0" fill="none" stroke="#b8c2a8" stroke-width="0.7"/>
<circle cx="171.1" cy="361.8" r="3.7" fill="#eef4f0" stroke="#1e2b48" stroke-width="0.9"/>
<path d="M169.5,362.40000000000003 q1.6,-2.2 3.2,0" fill="none" stroke="#b8c2a8" stroke-width="0.7"/>
<circle cx="161.3" cy="382.7" r="3.7" fill="#eef4f0" stroke="#1e2b48" stroke-width="0.9"/>
<path d="M159.70000000000002,383.3 q1.6,-2.2 3.2,0" fill="none" stroke="#b8c2a8" stroke-width="0.7"/>
<circle cx="224.6" cy="424.7" r="3.7" fill="#eef4f0" stroke="#1e2b48" stroke-width="0.9"/>
<path d="M223.0,425.3 q1.6,-2.2 3.2,0" fill="none" stroke="#b8c2a8" stroke-width="0.7"/>
<circle cx="223.4" cy="462.7" r="3.7" fill="#eef4f0" stroke="#1e2b48" stroke-width="0.9"/>
<path d="M221.8,463.3 q1.6,-2.2 3.2,0" fill="none" stroke="#b8c2a8" stroke-width="0.7"/>
<circle cx="237.3" cy="460.3" r="3.7" fill="#eef4f0" stroke="#1e2b48" stroke-width="0.9"/>
<path d="M235.70000000000002,460.90000000000003 q1.6,-2.2 3.2,0" fill="none" stroke="#b8c2a8" stroke-width="0.7"/>
<circle cx="223.9" cy="506.4" r="3.7" fill="#eef4f0" stroke="#1e2b48" stroke-width="0.9"/>
<path d="M222.3,507.0 q1.6,-2.2 3.2,0" fill="none" stroke="#b8c2a8" stroke-width="0.7"/>
<circle cx="300.3" cy="493.3" r="3.7" fill="#eef4f0" stroke="#1e2b48" stroke-width="0.9"/>
<path d="M298.7,493.90000000000003 q1.6,-2.2 3.2,0" fill="none" stroke="#b8c2a8" stroke-width="0.7"/>
<circle cx="262.4" cy="581" r="3.7" fill="#eef4f0" stroke="#1e2b48" stroke-width="0.9"/>
<path d="M260.79999999999995,581.6 q1.6,-2.2 3.2,0" fill="none" stroke="#b8c2a8" stroke-width="0.7"/>
<circle cx="321.5" cy="574.8" r="3.7" fill="#eef4f0" stroke="#1e2b48" stroke-width="0.9"/>
<path d="M319.9,575.4 q1.6,-2.2 3.2,0" fill="none" stroke="#b8c2a8" stroke-width="0.7"/>
<circle cx="316.5" cy="584" r="3.7" fill="#eef4f0" stroke="#1e2b48" stroke-width="0.9"/>
<path d="M314.9,584.6 q1.6,-2.2 3.2,0" fill="none" stroke="#b8c2a8" stroke-width="0.7"/>
<circle cx="374.9" cy="609.1" r="3.7" fill="#eef4f0" stroke="#1e2b48" stroke-width="0.9"/>
<path d="M373.29999999999995,609.7 q1.6,-2.2 3.2,0" fill="none" stroke="#b8c2a8" stroke-width="0.7"/>
<circle cx="404.8" cy="598.8" r="3.7" fill="#eef4f0" stroke="#1e2b48" stroke-width="0.9"/>
<path d="M403.2,599.4 q1.6,-2.2 3.2,0" fill="none" stroke="#b8c2a8" stroke-width="0.7"/>
<circle cx="401.9" cy="593" r="3.7" fill="#eef4f0" stroke="#1e2b48" stroke-width="0.9"/>
<path d="M400.29999999999995,593.6 q1.6,-2.2 3.2,0" fill="none" stroke="#b8c2a8" stroke-width="0.7"/>
<circle cx="401.1" cy="652.2" r="3.7" fill="#eef4f0" stroke="#1e2b48" stroke-width="0.9"/>
<path d="M399.5,652.8000000000001 q1.6,-2.2 3.2,0" fill="none" stroke="#b8c2a8" stroke-width="0.7"/>
<circle cx="426.8" cy="669.1" r="3.7" fill="#eef4f0" stroke="#1e2b48" stroke-width="0.9"/>
<path d="M425.2,669.7 q1.6,-2.2 3.2,0" fill="none" stroke="#b8c2a8" stroke-width="0.7"/>
<circle cx="436.7" cy="671.4" r="3.7" fill="#eef4f0" stroke="#1e2b48" stroke-width="0.9"/>
<path d="M435.09999999999997,672.0 q1.6,-2.2 3.2,0" fill="none" stroke="#b8c2a8" stroke-width="0.7"/>
<circle cx="174.6" cy="328.2" r="3.7" fill="#eef4f0" stroke="#1e2b48" stroke-width="0.9"/>
<path d="M173.0,328.8 q1.6,-2.2 3.2,0" fill="none" stroke="#b8c2a8" stroke-width="0.7"/>
<circle cx="163.6" cy="336.9" r="3.7" fill="#eef4f0" stroke="#1e2b48" stroke-width="0.9"/>
<path d="M162.0,337.5 q1.6,-2.2 3.2,0" fill="none" stroke="#b8c2a8" stroke-width="0.7"/>
<circle cx="187.4" cy="344" r="3.7" fill="#eef4f0" stroke="#1e2b48" stroke-width="0.9"/>
<path d="M185.8,344.6 q1.6,-2.2 3.2,0" fill="none" stroke="#b8c2a8" stroke-width="0.7"/>
<circle cx="208.5" cy="362.8" r="3.7" fill="#eef4f0" stroke="#1e2b48" stroke-width="0.9"/>
<path d="M206.9,363.40000000000003 q1.6,-2.2 3.2,0" fill="none" stroke="#b8c2a8" stroke-width="0.7"/>
<circle cx="196.5" cy="368.9" r="3.7" fill="#eef4f0" stroke="#1e2b48" stroke-width="0.9"/>
<path d="M194.9,369.5 q1.6,-2.2 3.2,0" fill="none" stroke="#b8c2a8" stroke-width="0.7"/>
<circle cx="212.3" cy="376.7" r="3.7" fill="#eef4f0" stroke="#1e2b48" stroke-width="0.9"/>
<path d="M210.70000000000002,377.3 q1.6,-2.2 3.2,0" fill="none" stroke="#b8c2a8" stroke-width="0.7"/>
<circle cx="213.5" cy="380.6" r="3.7" fill="#eef4f0" stroke="#1e2b48" stroke-width="0.9"/>
<path d="M211.9,381.20000000000005 q1.6,-2.2 3.2,0" fill="none" stroke="#b8c2a8" stroke-width="0.7"/>
<circle cx="238.8" cy="453.3" r="3.7" fill="#eef4f0" stroke="#1e2b48" stroke-width="0.9"/>
<path d="M237.20000000000002,453.90000000000003 q1.6,-2.2 3.2,0" fill="none" stroke="#b8c2a8" stroke-width="0.7"/>
<circle cx="318.2" cy="476.3" r="3.7" fill="#eef4f0" stroke="#1e2b48" stroke-width="0.9"/>
<path d="M316.59999999999997,476.90000000000003 q1.6,-2.2 3.2,0" fill="none" stroke="#b8c2a8" stroke-width="0.7"/>
<circle cx="308.3" cy="524" r="3.7" fill="#eef4f0" stroke="#1e2b48" stroke-width="0.9"/>
<path d="M306.7,524.6 q1.6,-2.2 3.2,0" fill="none" stroke="#b8c2a8" stroke-width="0.7"/>
<circle cx="360.6" cy="516.2" r="3.7" fill="#eef4f0" stroke="#1e2b48" stroke-width="0.9"/>
<path d="M359.0,516.8000000000001 q1.6,-2.2 3.2,0" fill="none" stroke="#b8c2a8" stroke-width="0.7"/>
<circle cx="394.2" cy="575.3" r="3.7" fill="#eef4f0" stroke="#1e2b48" stroke-width="0.9"/>
<path d="M392.59999999999997,575.9 q1.6,-2.2 3.2,0" fill="none" stroke="#b8c2a8" stroke-width="0.7"/>
<circle cx="449.9" cy="607.6" r="3.7" fill="#eef4f0" stroke="#1e2b48" stroke-width="0.9"/>
<path d="M448.29999999999995,608.2 q1.6,-2.2 3.2,0" fill="none" stroke="#b8c2a8" stroke-width="0.7"/>
<circle cx="448.7" cy="620.1" r="3.7" fill="#eef4f0" stroke="#1e2b48" stroke-width="0.9"/>
<path d="M447.09999999999997,620.7 q1.6,-2.2 3.2,0" fill="none" stroke="#b8c2a8" stroke-width="0.7"/>
<circle cx="464.9" cy="641.3" r="3.7" fill="#eef4f0" stroke="#1e2b48" stroke-width="0.9"/>
<path d="M463.29999999999995,641.9 q1.6,-2.2 3.2,0" fill="none" stroke="#b8c2a8" stroke-width="0.7"/>
<circle cx="431.2" cy="638.3" r="3.7" fill="#eef4f0" stroke="#1e2b48" stroke-width="0.9"/>
<path d="M429.59999999999997,638.9 q1.6,-2.2 3.2,0" fill="none" stroke="#b8c2a8" stroke-width="0.7"/>
<text x="107.5" y="241.7" class="d" textLength="11.1" lengthAdjust="spacingAndGlyphs">TUMBES</text>
<rect x="110.7" y="275.4" width="11.6" height="4.2" rx="1.2" fill="#fbfdff" stroke="#c9d8ee" stroke-width="0.4"/>
<text x="111.9" y="278.7" class="d" textLength="9.2" lengthAdjust="spacingAndGlyphs">PIURA</text>
<rect x="122.3" y="322.9" width="21.3" height="4.2" rx="1.2" fill="#fbfdff" stroke="#c9d8ee" stroke-width="0.4"/>
<text x="123.8" y="326.2" class="d" textLength="18.5" lengthAdjust="spacingAndGlyphs">LAMBAYEQUE</text>
<rect x="158.3" y="319.4" width="19.4" height="4.2" rx="1.2" fill="#fbfdff" stroke="#c9d8ee" stroke-width="0.4"/>
<text x="159.7" y="322.7" class="d" textLength="16.7" lengthAdjust="spacingAndGlyphs">CAJAMARCA</text>
<text x="180.6" y="300.7" class="d" textLength="14.8" lengthAdjust="spacingAndGlyphs">AMAZONAS</text>
<text x="302.9" y="260.0" class="d" textLength="11.1" lengthAdjust="spacingAndGlyphs">LORETO</text>
<text x="219.8" y="346.2" class="d" textLength="18.5" lengthAdjust="spacingAndGlyphs">SAN MARTIN</text>
<rect x="167.4" y="377.9" width="23.2" height="4.2" rx="1.2" fill="#fbfdff" stroke="#c9d8ee" stroke-width="0.4"/>
<text x="168.8" y="381.2" class="d" textLength="20.4" lengthAdjust="spacingAndGlyphs">LA LIBERTAD</text>
<rect x="195.2" y="410.9" width="13.5" height="4.2" rx="1.2" fill="#fbfdff" stroke="#c9d8ee" stroke-width="0.4"/>
<text x="196.4" y="414.2" class="d" textLength="11.1" lengthAdjust="spacingAndGlyphs">ANCASH</text>
<text x="245.5" y="425.7" class="d" textLength="13.0" lengthAdjust="spacingAndGlyphs">HUANUCO</text>
<rect x="267.7" y="450.4" width="11.6" height="4.2" rx="1.2" fill="#fbfdff" stroke="#c9d8ee" stroke-width="0.4"/>
<text x="268.9" y="453.7" class="d" textLength="9.2" lengthAdjust="spacingAndGlyphs">PASCO</text>
<text x="332.5" y="437.7" class="d" textLength="13.0" lengthAdjust="spacingAndGlyphs">UCAYALI</text>
<rect x="292.7" y="482.9" width="11.6" height="4.2" rx="1.2" fill="#fbfdff" stroke="#c9d8ee" stroke-width="0.4"/>
<text x="293.9" y="486.2" class="d" textLength="9.2" lengthAdjust="spacingAndGlyphs">JUNIN</text>
<rect x="229.0" y="487.7" width="9.6" height="4.2" rx="1.2" fill="#fbfdff" stroke="#c9d8ee" stroke-width="0.4"/>
<text x="230.1" y="491.0" class="d" textLength="7.4" lengthAdjust="spacingAndGlyphs">LIMA</text>
<text x="208.4" y="505.9" class="d" textLength="11.1" lengthAdjust="spacingAndGlyphs">CALLAO</text>
<rect x="282.4" y="525.4" width="25.2" height="4.2" rx="1.2" fill="#fbfdff" stroke="#c9d8ee" stroke-width="0.4"/>
<text x="283.9" y="528.7" class="d" textLength="22.2" lengthAdjust="spacingAndGlyphs">HUANCAVELICA</text>
<rect x="258.6" y="569.4" width="7.6" height="4.2" rx="1.2" fill="#fbfdff" stroke="#c9d8ee" stroke-width="0.4"/>
<text x="259.6" y="572.7" class="d" textLength="5.6" lengthAdjust="spacingAndGlyphs">ICA</text>
<rect x="306.5" y="565.0" width="17.4" height="4.2" rx="1.2" fill="#fbfdff" stroke="#c9d8ee" stroke-width="0.4"/>
<text x="307.8" y="568.3" class="d" textLength="14.8" lengthAdjust="spacingAndGlyphs">AYACUCHO</text>
<text x="349.6" y="563.2" class="d" textLength="14.8" lengthAdjust="spacingAndGlyphs">APURIMAC</text>
<rect x="375.2" y="536.4" width="11.6" height="4.2" rx="1.2" fill="#fbfdff" stroke="#c9d8ee" stroke-width="0.4"/>
<text x="376.4" y="539.7" class="d" textLength="9.2" lengthAdjust="spacingAndGlyphs">CUSCO</text>
<text x="424.0" y="507.2" class="d" textLength="24.1" lengthAdjust="spacingAndGlyphs">MADRE DE DIOS</text>
<rect x="446.2" y="575.9" width="9.6" height="4.2" rx="1.2" fill="#fbfdff" stroke="#c9d8ee" stroke-width="0.4"/>
<text x="447.3" y="579.2" class="d" textLength="7.4" lengthAdjust="spacingAndGlyphs">PUNO</text>
<rect x="373.7" y="619.4" width="17.4" height="4.2" rx="1.2" fill="#fbfdff" stroke="#c9d8ee" stroke-width="0.4"/>
<text x="375.0" y="622.7" class="d" textLength="14.8" lengthAdjust="spacingAndGlyphs">AREQUIPA</text>
<rect x="416.3" y="652.1" width="17.4" height="4.2" rx="1.2" fill="#fbfdff" stroke="#c9d8ee" stroke-width="0.4"/>
<text x="417.6" y="655.4" class="d" textLength="14.8" lengthAdjust="spacingAndGlyphs">MOQUEGUA</text>
<text x="436.4" y="680.8" class="d" textLength="9.2" lengthAdjust="spacingAndGlyphs">TACNA</text>
<text x="106.3" y="150.6" class="l" textLength="154.1" lengthAdjust="spacing">PROYECTO ESPECIAL JAÉN SAN IGNACIO BAGUA</text>
<text x="47.4" y="231.5" class="l" textLength="34.4" lengthAdjust="spacing">PROYECTO</text>
<text x="40.5" y="239" class="l" textLength="48.8" lengthAdjust="spacing">MAPLE-ETANOL</text>
<text x="36.2" y="298.3" class="l" textLength="61.1" lengthAdjust="spacing">PROYECTO PUENTE</text>
<text x="54.9" y="305.3" class="l" textLength="26.2" lengthAdjust="spacing">PAY PAY</text>
<text x="38.7" y="326.9" class="l" textLength="59.8" lengthAdjust="spacing">PROYECTO PUENTE</text>
<text x="47.4" y="334.4" class="l" textLength="44.9" lengthAdjust="spacing">SAN LORENZO</text>
<text x="40.2" y="367.1" class="l" textLength="95.0" lengthAdjust="spacing">UNIDAD MINERA YANACOCHA</text>
<text x="38.5" y="376.3" class="l" textLength="94.7" lengthAdjust="spacing">MUNICIPALIDAD PROVINCIAL</text>
<text x="60.9" y="384.1" class="l" textLength="52.3" lengthAdjust="spacing">DE GRAN CHIMÚ</text>
<text x="61.7" y="398.2" class="l" textLength="64.0" lengthAdjust="spacing">PUERTO SALAVERRY</text>
<text x="86.9" y="443.3" class="l" textLength="90.3" lengthAdjust="spacing">UNIDAD MINERA ANTAMINA</text>
<text x="103.4" y="464.5" class="l" textLength="84.6" lengthAdjust="spacing">PROYECTO PUENTE HUARU</text>
<text x="79.4" y="490.5" class="l" textLength="119.6" lengthAdjust="spacing">PROYECTO HIDROELÉCTRICO CHEVES</text>
<text x="116.8" y="522.8" class="l" textLength="89.7" lengthAdjust="spacing">PROYECTO AULARIUM-PUCP</text>
<text x="116.8" y="540.2" class="l" textLength="97.2" lengthAdjust="spacing">UNIDAD MINERA TOROMOCHO</text>
<text x="86.6" y="594.2" class="l" textLength="135.6" lengthAdjust="spacing">PROYECTO ESPECIAL TAMBO CCARACOCHA</text>
<text x="130.5" y="613.1" class="l" textLength="116.3" lengthAdjust="spacing">UNIDAD MINERA CATALINA HUANCA</text>
<text x="158" y="631.4" class="l" textLength="116.4" lengthAdjust="spacing">PROYECTO PUENTE DESCOMULGADO</text>
<text x="220.6" y="646.3" class="l" textLength="95.7" lengthAdjust="spacing">UNIDAD MINERA ORCOPAMPA</text>
<text x="258.8" y="667.2" class="l" textLength="94.7" lengthAdjust="spacing">PROYECTO MINERO QUECHUA</text>
<text x="270.8" y="682.1" class="l" textLength="100.3" lengthAdjust="spacing">UNIDAD MINERA CERRO VERDE</text>
<text x="290.7" y="707.1" class="l" textLength="105.3" lengthAdjust="spacing">PROYECTO MINERO QUELLAVECO</text>
<text x="410.9" y="730.5" class="l" textLength="116.9" lengthAdjust="spacing">PROYECTO DE IRRIGACIÓN COLTANI</text>
<text x="402.4" y="172.9" class="l" textLength="106.3" lengthAdjust="spacing">UNIDAD MINERA CERRO CORONA</text>
<text x="389.8" y="284.5" class="l" textLength="85.1" lengthAdjust="spacing">UNIDAD MINERA LA ZANJA</text>
<text x="406.4" y="325.1" class="l" textLength="86.4" lengthAdjust="spacing">PROYECTO MINERO CONGA</text>
<text x="383.2" y="343.7" class="l" textLength="90.3" lengthAdjust="spacing">UNIDAD MINERA PODEROSA</text>
<text x="350.6" y="362.9" class="l" textLength="89.7" lengthAdjust="spacing">UNIDAD MINERA LA VIRGEN</text>
<text x="353.9" y="380.2" class="l" textLength="81.7" lengthAdjust="spacing">UNIDAD MINERA PARCOY</text>
<text x="353.3" y="391.5" class="l" textLength="85.7" lengthAdjust="spacing">UNIDAD MINERA RETAMAS</text>
<text x="418.2" y="408.9" class="l" textLength="99.7" lengthAdjust="spacing">UNIDAD MINERA UCHUCCHAUA</text>
<text x="444.1" y="428.2" class="l" textLength="85.4" lengthAdjust="spacing">PROYECTO PUENTE OCOPA</text>
<text x="448.1" y="456.4" class="l" textLength="84.1" lengthAdjust="spacing">UNIDAD MINERA COBRIZA</text>
<text x="471.4" y="474.7" class="l" textLength="96.3" lengthAdjust="spacing">PROYECTO PUENTE IVOCHOTE</text>
<text x="501.3" y="494.6" class="l" textLength="54.1" lengthAdjust="spacing">UNIDAD MINERA</text>
<text x="507.9" y="502.6" class="l" textLength="42.2" lengthAdjust="spacing">CONSTANCIA</text>
<text x="502.9" y="520.9" class="l" textLength="55.5" lengthAdjust="spacing">UNIDAD  MINERA</text>
<text x="516.2" y="528.5" class="l" textLength="28.9" lengthAdjust="spacing">TINTAYA</text>
<text x="506.2" y="548.4" class="l" textLength="62.5" lengthAdjust="spacing">PROYECTO MINERO</text>
<text x="525.2" y="555.8" class="l" textLength="26.6" lengthAdjust="spacing">UNTUCA</text>
<text x="481.3" y="592.3" class="l" textLength="60.8" lengthAdjust="spacing">PROYECTO PUENTE</text>
<text x="497" y="599.9" class="l" textLength="29.2" lengthAdjust="spacing">MICAELA</text>
<text x="485.6" y="668" class="l" textLength="60.5" lengthAdjust="spacing">PROYECTO PUENTE</text>
<text x="499.6" y="676" class="l" textLength="33.9" lengthAdjust="spacing">YURI YURI</text>
<text x="463" y="696.9" class="l" textLength="103.0" lengthAdjust="spacing">PROYECTO MINERO CHUCAPACA</text>
</svg>
</body></html>
